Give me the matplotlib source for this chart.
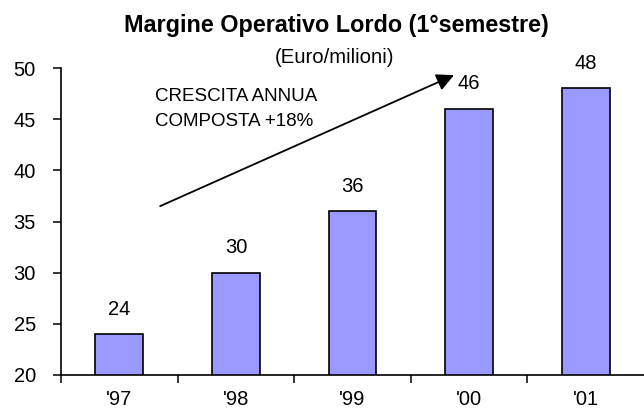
import numpy as np
import matplotlib
matplotlib.use("Agg")
import matplotlib.pyplot as plt

plt.rcParams['font.family'] = ['Liberation Sans', 'DejaVu Sans']

anni = ["'97", "'98", "'99", "'00", "'01"]
mol = [24, 30, 36, 46, 48]
yticks = [20, 25, 30, 35, 40, 45, 50]

fig = plt.figure(figsize=(6.44, 4.16), dpi=100)
ax = fig.add_axes([61/644, 41/416, 583/644, 307/416])

x = np.arange(len(anni))
ax.bar(x, mol, width=0.41, bottom=0, color='#9999FF', edgecolor='black', linewidth=1.2)
ax.set_xlim(-0.5, 4.5)
ax.set_ylim(20, 50)

# etichette valori sopra le barre
for xi, v in zip(x, mol):
    ax.annotate(str(v), (xi, v), xytext=(0, 18), textcoords='offset points',
                ha='center', va='center', fontsize=14.5)

ax.set_yticks(yticks)
ax.set_yticklabels([str(t) for t in yticks], fontsize=14.5)
ax.tick_params(axis='y', direction='out', length=6, width=1.1, pad=12)

ax.set_xticks(x)
ax.set_xticklabels(anni, fontsize=14.5)
ax.set_xticks(np.arange(-0.5, 4.5, 1), minor=True)
ax.tick_params(axis='x', which='major', length=0, pad=11)
ax.tick_params(axis='x', which='minor', direction='out', length=6, width=1.1)

for s in ['top', 'right']:
    ax.spines[s].set_visible(False)
for s in ['left', 'bottom']:
    ax.spines[s].set_linewidth(1.2)

ax.annotate('', xy=(2.87, 49.3), xytext=(0.35, 36.5),
            arrowprops=dict(arrowstyle='-|>', color='black', lw=1.3,
                            mutation_scale=26, shrinkA=0, shrinkB=0),
            annotation_clip=False)
fig.text(155/644, 1 - 109/416, 'CRESCITA ANNUA\nCOMPOSTA +18%', fontsize=13.5,
         ha='left', va='center', linespacing=1.55)

fig.text(0.522, 1 - 32/416, 'Margine Operativo Lordo (1°semestre)', ha='center',
         va='baseline', fontsize=16.8, fontweight='bold')
fig.text(0.52, 1 - 63/416, '(Euro/milioni)', ha='center', va='baseline', fontsize=14.6)

fig.savefig('out.png', dpi=100)
